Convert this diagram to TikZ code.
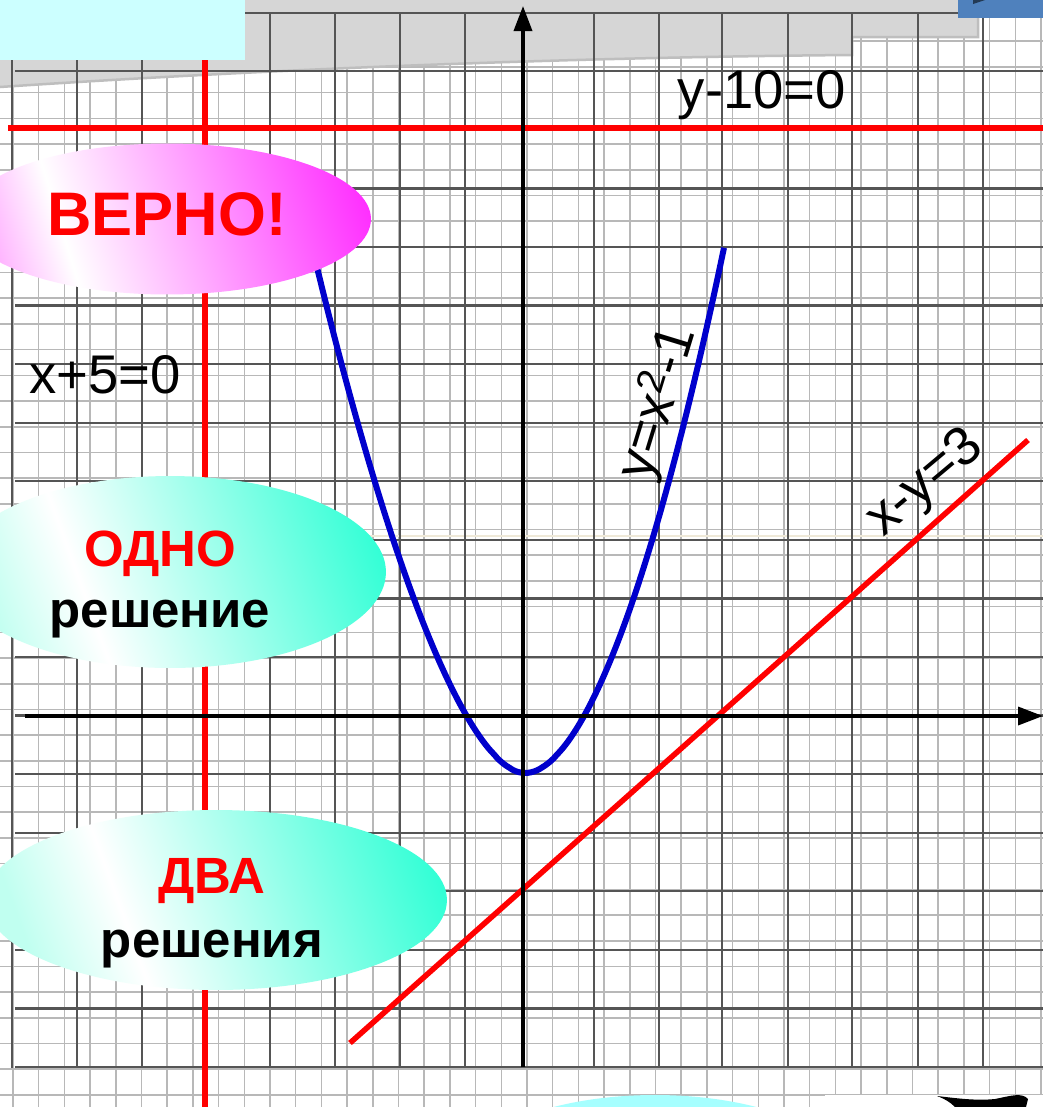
\documentclass[tikz,border=0pt]{standalone}
\usepackage{fontspec}
\setmainfont{Liberation Sans}
\usetikzlibrary{arrows.meta,shapes.geometric}

\definecolor{bandgray}{HTML}{D6D6D6}
\definecolor{bandedge}{HTML}{BEBEBE}
\definecolor{capcyan}{HTML}{CCFFFF}
\definecolor{slideblue}{HTML}{4F81BD}
\definecolor{curveblue}{HTML}{0000CC}
\definecolor{majorgray}{HTML}{555555}
\definecolor{minorgray}{HTML}{B8B8B8}
\definecolor{faintline}{HTML}{EFE9D8}
\definecolor{lowcyan}{HTML}{A6FFFF}
\definecolor{pinkL}{HTML}{FFB4FF}
\definecolor{pinkR}{HTML}{FF30FF}
\definecolor{mintL}{HTML}{C0FFF0}
\definecolor{mintR}{HTML}{33FFD6}

\pgfdeclarehorizontalshading{pinkshade}{100bp}{color(0bp)=(pinkL); color(25bp)=(pinkL); color(35bp)=(white); color(78bp)=(pinkR); color(100bp)=(pinkR)}
\pgfdeclarehorizontalshading{mintshade}{100bp}{color(0bp)=(mintL); color(25bp)=(mintL); color(38bp)=(white); color(78bp)=(mintR); color(100bp)=(mintR)}

\begin{document}
\begin{tikzpicture}[x=0.02cm, y=-0.02cm,
    minor/.style={minorgray, line width=0.9pt},
    major/.style={majorgray, line width=1.3pt},
    redline/.style={red, line width=0.11cm},
    bubble/.style={ellipse, draw=none, inner sep=0pt, shade},
    eqlabel/.style={font=\fontsize{31}{36}\selectfont},
    answer/.style={anchor=base, font=\bfseries\fontsize{29}{34}\selectfont}]

    \clip (0,0) rectangle (1043,1107);
    \fill[white] (0,0) rectangle (1043,1107);

    % Graph paper
    \foreach \x in {0,...,40}
        \draw[minor] ({13+25.7*\x},0) -- ({13+25.7*\x},1107);
    \foreach \y in {0,...,42}
        \draw[minor] (0,{15.5+25.7*\y}) -- (1043,{15.5+25.7*\y});
    \draw[faintline, line width=0.6pt] (300,536) -- (1043,536);

    % Gray band at the top
    \fill[bandgray] (0,0) -- (978,0) -- (978,37) -- (852,37) -- (852,55)
        .. controls (600,57) and (300,67) .. (0,87) -- cycle;
    \draw[bandedge, line width=0.05cm] (978,0) -- (978,37) -- (852,37) -- (852,55)
        .. controls (600,57) and (300,67) .. (0,87);

    % Grid
    \foreach \x in {12,77,142,206,270,335,400,465,594,659,722,788,852,918,983}
        \draw[major] (\x,12) -- (\x,1068);
    \foreach \y in {0,...,18}
        \draw[major] (15,{12.7+58.57*\y}) -- (1043,{12.7+58.57*\y});

    % Lines
    \draw[redline] (205,47) -- (205,1107);
    \draw[redline] (8,128) -- (1043,128);
    \draw[redline] (350,1043) -- (1028,440);

    % Parabola (as drawn, a bit steeper on the right)
    \draw[curveblue, line width=0.12cm, line join=round]
        plot[domain=-2.12:0, samples=70] ({525+100*\x}, {773-150.7*((\x*\x+0.04)^0.835-0.068)})
        -- plot[domain=0:1.99, samples=70] ({525+100*\x}, {773-153.3*((\x*\x+0.04)^0.9-0.0552)});

    % Axes
    \draw[line width=0.07cm, -{Triangle[length=0.5cm,width=0.36cm]}] (523,1067) -- (523,6);
    \draw[line width=0.07cm, -{Triangle[length=0.5cm,width=0.36cm]}] (25,716) -- (1043,716);

    % Labels
    \node[eqlabel, anchor=base] (ylab) at (762,108) {y-10=0};
    \node[eqlabel, anchor=base] (xlab) at (105,393) {x+5=0};
    \node[eqlabel, rotate=73] (parlab) at (658,403) {y=x\textsuperscript{2}-1};
    \node[eqlabel, rotate=40] (linelab) at (926,484) {x-y=3};

    % Answers
    \node[bubble, shading=pinkshade, shading angle=17,
        minimum width=8.16cm, minimum height=3.02cm] (right) at (167,219) {};
    \node[answer, red, font=\bfseries\fontsize{35}{40}\selectfont] (rightText) at (167,235) {ВЕРНО!};

    \node[bubble, shading=mintshade, shading angle=20,
        minimum width=8.64cm, minimum height=3.84cm] (one) at (170,572) {};
    \node[answer, red] (oneNum) at (160,566) {ОДНО};
    \node[answer] (oneWord) at (160,627) {решение};

    \node[bubble, shading=mintshade, shading angle=20,
        minimum width=9.24cm, minimum height=3.6cm] (two) at (216,900) {};
    \node[answer, red] (twoNum) at (212,893) {ДВА};
    \node[answer] (twoWord) at (212,957) {решения};

    % Edges of other slides
    \fill[capcyan] (0,0) rectangle (245,60);
    \fill[slideblue] (958,0) rectangle (1043,18);
    \fill[slideblue!45!black] (973,0) -- (985,0) -- (973,4) -- cycle;
    \fill[lowcyan] (655,1182) ellipse (200 and 87);
    \fill[white] (825,1095) rectangle (1043,1107);
    \fill[black] (937,1096) .. controls (955,1098) and (975,1101) .. (995,1099)
        .. controls (1010,1096) and (1022,1092) .. (1028,1099) -- (1026,1107) -- (955,1107)
        .. controls (950,1102) and (945,1099) .. cycle;
\end{tikzpicture}
\end{document}
